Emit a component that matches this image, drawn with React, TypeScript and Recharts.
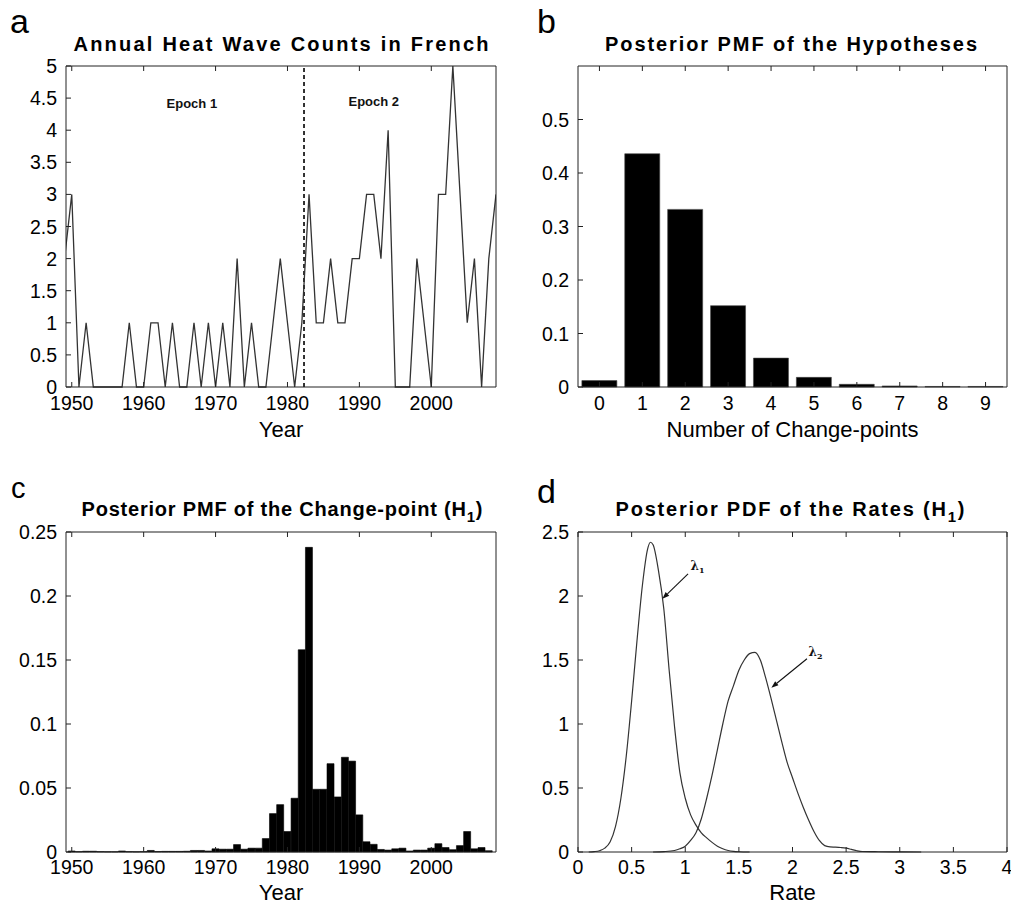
import React from 'react';
import { LineChart, Line, BarChart, Bar, XAxis, YAxis, ReferenceLine, ReferenceDot } from 'recharts';

// ---------- Panel a: annual heat wave counts ----------
const years = [
  1949, 1950, 1951, 1952, 1953, 1954, 1955, 1956, 1957, 1958, 1959,
  1960, 1961, 1962, 1963, 1964, 1965, 1966, 1967, 1968, 1969,
  1970, 1971, 1972, 1973, 1974, 1975, 1976, 1977, 1978, 1979,
  1980, 1981, 1982, 1983, 1984, 1985, 1986, 1987, 1988, 1989,
  1990, 1991, 1992, 1993, 1994, 1995, 1996, 1997, 1998, 1999,
  2000, 2001, 2002, 2003, 2004, 2005, 2006, 2007, 2008, 2009,
];
const heatWaveCounts = [
  2, 3, 0, 1, 0, 0, 0, 0, 0, 1, 0,
  0, 1, 1, 0, 1, 0, 0, 1, 0, 1,
  0, 1, 0, 2, 0, 1, 0, 0, 1, 2,
  1, 0, 1, 3, 1, 1, 2, 1, 1, 2,
  2, 3, 3, 2, 4, 0, 0, 0, 2, 1,
  0, 3, 3, 5, 3, 1, 2, 0, 2, 3,
];
const epochBoundaryYear = 1982.3;
const epochLabels = [
  { text: 'Epoch 1', year: 1966.7, count: 4.42 },
  { text: 'Epoch 2', year: 1992.0, count: 4.44 },
];
const yearTicks = [1950, 1960, 1970, 1980, 1990, 2000];
const countTicks = [0, 0.5, 1, 1.5, 2, 2.5, 3, 3.5, 4, 4.5, 5];

// ---------- Panel b: posterior PMF of the hypotheses ----------
const changePointNumbers = ['0', '1', '2', '3', '4', '5', '6', '7', '8', '9'];
const hypothesisPmf = [0.012, 0.436, 0.332, 0.152, 0.054, 0.018, 0.005, 0.002, 0.001, 0.001];
const hypTicks = [0, 0.1, 0.2, 0.3, 0.4, 0.5];

// ---------- Panel c: posterior PMF of the change-point ----------
const changePointYears = [
  1950, 1951, 1952, 1953, 1954, 1955, 1956, 1957, 1958, 1959,
  1960, 1961, 1962, 1963, 1964, 1965, 1966, 1967, 1968, 1969,
  1970, 1971, 1972, 1973, 1974, 1975, 1976, 1977, 1978, 1979,
  1980, 1981, 1982, 1983, 1984, 1985, 1986, 1987, 1988, 1989,
  1990, 1991, 1992, 1993, 1994, 1995, 1996, 1997, 1998, 1999,
  2000, 2001, 2002, 2003, 2004, 2005, 2006, 2007, 2008,
];
const changePointPmf = [
  0.0008, 0.0003, 0.0006, 0.0006, 0.0003, 0.0002, 0.0002, 0.0008, 0.0003, 0.0002,
  0.0003, 0.0012, 0.0004, 0.0005, 0.0005, 0.0005, 0.0006, 0.0012, 0.0012, 0.0008,
  0.0025, 0.0022, 0.0022, 0.0058, 0.0022, 0.003, 0.003, 0.0105, 0.03, 0.037,
  0.016, 0.042, 0.158, 0.238, 0.049, 0.049, 0.069, 0.043, 0.074, 0.071,
  0.029, 0.008, 0.006, 0.002, 0.0015, 0.0025, 0.003, 0.0008, 0.0015, 0.0015,
  0.003, 0.0065, 0.0035, 0.0018, 0.005, 0.016, 0.0025, 0.0035, 0.001,
];
const pmfTicks = [0, 0.05, 0.1, 0.15, 0.2, 0.25];

// ---------- Panel d: posterior PDF of the rates ----------
const lambda1Rate = [
  0.1, 0.15, 0.2, 0.25, 0.3, 0.35, 0.4, 0.45, 0.5, 0.55, 0.6, 0.65, 0.675, 0.7,
  0.75, 0.8, 0.85, 0.9, 0.95, 1.0, 1.05, 1.1, 1.15, 1.2, 1.25, 1.3, 1.35, 1.4,
  1.45, 1.5, 1.6,
];
const lambda1Pdf = [
  0, 0.003, 0.01, 0.03, 0.08, 0.2, 0.42, 0.75, 1.18, 1.65, 2.08, 2.37, 2.42, 2.4,
  2.2, 1.9, 1.42, 0.98, 0.62, 0.42, 0.29, 0.21, 0.15, 0.11, 0.075, 0.045, 0.025, 0.012,
  0.005, 0.002, 0,
];
const lambda2Rate = [
  0.7, 0.8, 0.9, 0.95, 1.0, 1.05, 1.1, 1.15, 1.2, 1.25, 1.3, 1.35, 1.4, 1.45,
  1.5, 1.55, 1.6, 1.65, 1.7, 1.75, 1.8, 1.85, 1.9, 1.95, 2.0, 2.05, 2.1, 2.15,
  2.2, 2.25, 2.3, 2.35, 2.4, 2.45, 2.5, 2.55, 2.6, 2.65, 2.8, 3.0, 3.2,
];
const lambda2Pdf = [
  0, 0.003, 0.012, 0.025, 0.045, 0.09, 0.15, 0.26, 0.42, 0.6, 0.8, 1.0, 1.18, 1.3,
  1.42, 1.5, 1.55, 1.56, 1.5, 1.36, 1.2, 1.03, 0.86, 0.7, 0.58, 0.46, 0.35, 0.25,
  0.16, 0.09, 0.05, 0.04, 0.038, 0.035, 0.03, 0.02, 0.01, 0.004, 0.002, 0.001, 0,
];
const lambdaArrows = [
  { sub: '1', label: { x: 1.05, y: 2.2 }, tail: { x: 1.026, y: 2.173 }, tip: { x: 0.787, y: 1.978 } },
  { sub: '2', label: { x: 2.15, y: 1.53 }, tail: { x: 2.135, y: 1.51 }, tip: { x: 1.803, y: 1.284 } },
];
const rateTicks = [0, 0.5, 1, 1.5, 2, 2.5, 3, 3.5, 4];
const pdfTicks = [0, 0.5, 1, 1.5, 2, 2.5];

// ---------- tables built from the arrays ----------
const countData = years.map((year, i) => ({ year, count: heatWaveCounts[i] }));
const hypData = changePointNumbers.map((k, i) => ({ k, p: hypothesisPmf[i] }));
const cpData = changePointYears.map((year, i) => ({ year, p: changePointPmf[i] }));
const l1Data = lambda1Rate.map((rate, i) => ({ rate, pdf: lambda1Pdf[i] }));
const l2Data = lambda2Rate.map((rate, i) => ({ rate, pdf: lambda2Pdf[i] }));

// ---------- styles ----------
const FONT = '"Liberation Sans", Arial, Helvetica, sans-serif';
const AX = '#222';
const TICK_FS = 19.5;
const axisLabel = (value: string, offset: number) => ({
  value,
  position: 'insideBottom' as const,
  offset,
  fill: '#000',
  fontSize: 22,
  fontFamily: FONT,
});
const noLabel = () => '';

const BottomTick = (p: any) => (
  <text
    x={p.x}
    y={p.y}
    dy="0.72em"
    textAnchor="middle"
    style={{ fontSize: TICK_FS, fontFamily: FONT, fill: '#000' }}
  >
    {p.payload && p.payload.value}
  </text>
);
const LeftTick = (p: any) => (
  <text
    x={p.x}
    y={p.y}
    dy="0.36em"
    textAnchor="end"
    style={{ fontSize: TICK_FS, fontFamily: FONT, fill: '#000' }}
  >
    {p.payload && p.payload.value}
  </text>
);

const EpochText = (text: string) => (p: any) => (
  <text
    x={p.cx}
    y={p.cy}
    textAnchor="middle"
    dominantBaseline="central"
    fontSize={13}
    fontWeight="bold"
    fontFamily={FONT}
    fill="#111"
  >
    {text}
  </text>
);

const LambdaText = (sub: string) => (p: any) => (
  <text x={p.cx} y={p.cy} fontSize={12} fontWeight="bold" fontFamily='"DejaVu Serif", serif' fill="#111">
    λ
    <tspan dy={3} fontSize={8}>
      {sub}
    </tspan>
  </text>
);

const Arrow = (p: any) => {
  const { x1, y1, x2, y2 } = p;
  if ([x1, y1, x2, y2].some((v) => typeof v !== 'number' || isNaN(v))) return null;
  const a = Math.atan2(y2 - y1, x2 - x1);
  const L = 7;
  const W = 2.6;
  const bx = x2 - L * Math.cos(a);
  const by = y2 - L * Math.sin(a);
  const px = -Math.sin(a) * W;
  const py = Math.cos(a) * W;
  return (
    <g>
      <line x1={x1} y1={y1} x2={bx} y2={by} stroke="#111" strokeWidth={1.1} />
      <polygon points={`${x2},${y2} ${bx + px},${by + py} ${bx - px},${by - py}`} fill="#111" />
    </g>
  );
};

const titleStyle: React.CSSProperties = {
  fontFamily: FONT,
  fontWeight: 'bold',
  fontSize: 20,
  fill: '#000',
};
const letterStyle: React.CSSProperties = {
  fontFamily: FONT,
  fontSize: 34,
  fill: '#000',
};

export default function App() {
  return (
    <div style={{ position: 'absolute', left: 0, top: 0, width: 1011, height: 908, background: '#fff', overflow: 'hidden' }}>
      {/* Panel a */}
      <div style={{ position: 'absolute', left: 0, top: 0 }}>
        <LineChart width={520} height={460} data={countData} margin={{ top: 65, right: 23, bottom: 13, left: 6 }}>
          <XAxis
            xAxisId="b"
            type="number"
            dataKey="year"
            domain={[1949.2, 2009]}
            allowDataOverflow
            ticks={yearTicks}
            interval={0}
            tickSize={-5}
            tickMargin={14}
            height={60}
            stroke={AX}
            tick={BottomTick}
            label={axisLabel('Year', 10)}
          />
          <XAxis
            xAxisId="t"
            orientation="top"
            type="number"
            dataKey="year"
            domain={[1949.2, 2009]}
            allowDataOverflow
            ticks={yearTicks}
            interval={0}
            tickSize={-5}
            height={1}
            stroke={AX}
            tickFormatter={noLabel}
          />
          <YAxis yAxisId="l" type="number" domain={[0, 5]} ticks={countTicks} interval={0} tickSize={-5} tickMargin={14} width={60} stroke={AX} tick={LeftTick} />
          <YAxis yAxisId="r" orientation="right" type="number" domain={[0, 5]} ticks={countTicks} interval={0} tickSize={-5} width={1} stroke={AX} tickFormatter={noLabel} />
          <ReferenceLine xAxisId="b" yAxisId="l" x={epochBoundaryYear} stroke="#000" strokeWidth={1.6} strokeDasharray="4 3" />
          {epochLabels.map((e) => (
            <ReferenceDot key={e.text} xAxisId="b" yAxisId="l" x={e.year} y={e.count} r={0} shape={EpochText(e.text)} />
          ))}
          <Line xAxisId="b" yAxisId="l" type="linear" dataKey="count" stroke="#333" strokeWidth={1.3} dot={false} isAnimationActive={false} />
        </LineChart>
      </div>

      {/* Panel b */}
      <div style={{ position: 'absolute', left: 520, top: 0 }}>
        <BarChart width={491} height={460} data={hypData} margin={{ top: 65, right: 3, bottom: 13, left: 6 }} barCategoryGap="9%">
          <XAxis
            xAxisId="b"
            type="category"
            dataKey="k"
            interval={0}
            tickSize={-5}
            tickMargin={14}
            height={60}
            stroke={AX}
            tick={BottomTick}
            label={axisLabel('Number of Change-points', 10)}
          />
          <XAxis xAxisId="t" orientation="top" type="category" dataKey="k" interval={0} tickSize={-5} height={1} stroke={AX} tickFormatter={noLabel} />
          <YAxis yAxisId="l" type="number" domain={[0, 0.6]} ticks={hypTicks} interval={0} tickSize={-5} tickMargin={14} width={52} stroke={AX} tick={LeftTick} />
          <YAxis yAxisId="r" orientation="right" type="number" domain={[0, 0.6]} ticks={hypTicks} interval={0} tickSize={-5} width={1} stroke={AX} tickFormatter={noLabel} />
          <Bar xAxisId="b" yAxisId="l" dataKey="p" fill="#000" stroke="#444" strokeWidth={0.6} isAnimationActive={false} />
        </BarChart>
      </div>

      {/* Panel c */}
      <div style={{ position: 'absolute', left: 0, top: 460 }}>
        <BarChart width={520} height={448} data={cpData} margin={{ top: 71, right: 23, bottom: 6, left: 6 }} barCategoryGap={0} barGap={0}>
          <XAxis
            xAxisId="b"
            type="number"
            dataKey="year"
            domain={[1949.2, 2009]}
            allowDataOverflow
            ticks={yearTicks}
            interval={0}
            tickSize={-5}
            tickMargin={13}
            height={50}
            stroke={AX}
            tick={BottomTick}
            label={axisLabel('Year', 2)}
          />
          <XAxis
            xAxisId="t"
            orientation="top"
            type="number"
            dataKey="year"
            domain={[1949.2, 2009]}
            allowDataOverflow
            ticks={yearTicks}
            interval={0}
            tickSize={-5}
            height={1}
            stroke={AX}
            tickFormatter={noLabel}
          />
          <YAxis yAxisId="l" type="number" domain={[0, 0.25]} ticks={pmfTicks} interval={0} tickSize={-5} tickMargin={14} width={60} stroke={AX} tick={LeftTick} />
          <YAxis yAxisId="r" orientation="right" type="number" domain={[0, 0.25]} ticks={pmfTicks} interval={0} tickSize={-5} width={1} stroke={AX} tickFormatter={noLabel} />
          <Bar xAxisId="b" yAxisId="l" dataKey="p" fill="#000" stroke="#000" strokeWidth={0.6} isAnimationActive={false} />
        </BarChart>
      </div>

      {/* Panel d */}
      <div style={{ position: 'absolute', left: 520, top: 460 }}>
        <LineChart width={491} height={448} margin={{ top: 71, right: 3, bottom: 6, left: 6 }}>
          <XAxis
            xAxisId="b"
            type="number"
            dataKey="rate"
            domain={[0, 4]}
            allowDataOverflow
            ticks={rateTicks}
            interval={0}
            tickSize={-5}
            tickMargin={13}
            height={50}
            stroke={AX}
            tick={BottomTick}
            label={axisLabel('Rate', 2)}
          />
          <XAxis xAxisId="t" orientation="top" type="number" dataKey="rate" domain={[0, 4]} allowDataOverflow ticks={rateTicks} interval={0} tickSize={-5} height={1} stroke={AX} tickFormatter={noLabel} />
          <YAxis yAxisId="l" type="number" domain={[0, 2.5]} ticks={pdfTicks} interval={0} tickSize={-5} tickMargin={14} width={52} stroke={AX} tick={LeftTick} />
          <YAxis yAxisId="r" orientation="right" type="number" domain={[0, 2.5]} ticks={pdfTicks} interval={0} tickSize={-5} width={1} stroke={AX} tickFormatter={noLabel} />
          <Line xAxisId="b" yAxisId="l" data={l1Data} type="monotone" dataKey="pdf" stroke="#333" strokeWidth={1.2} dot={false} isAnimationActive={false} />
          <Line xAxisId="b" yAxisId="l" data={l2Data} type="monotone" dataKey="pdf" stroke="#333" strokeWidth={1.2} dot={false} isAnimationActive={false} />
          {lambdaArrows.map((a) => (
            <ReferenceLine key={'arr' + a.sub} xAxisId="b" yAxisId="l" segment={[a.tail, a.tip]} shape={Arrow} />
          ))}
          {lambdaArrows.map((a) => (
            <ReferenceDot key={'lab' + a.sub} xAxisId="b" yAxisId="l" x={a.label.x} y={a.label.y} r={0} shape={LambdaText(a.sub)} />
          ))}
        </LineChart>
      </div>

      {/* Titles and panel letters */}
      <svg width={1011} height={908} style={{ position: 'absolute', left: 0, top: 0, pointerEvents: 'none' }}>
        <text x={281} y={51} textAnchor="middle" textLength={415} lengthAdjust="spacing" style={titleStyle}>
          Annual Heat Wave Counts in French
        </text>
        <text x={791} y={51} textAnchor="middle" textLength={372} lengthAdjust="spacing" style={titleStyle}>
          Posterior PMF of the Hypotheses
        </text>
        <text x={282} y={516} textAnchor="middle" textLength={401} lengthAdjust="spacing" style={titleStyle}>
          Posterior PMF of the Change-point (H
          <tspan dy={6} fontSize={15}>1</tspan>
          <tspan dy={-6}>)</tspan>
        </text>
        <text x={790} y={516} textAnchor="middle" textLength={349} lengthAdjust="spacing" style={titleStyle}>
          Posterior PDF of the Rates (H
          <tspan dy={6} fontSize={15}>1</tspan>
          <tspan dy={-6}>)</tspan>
        </text>
        <text x={10} y={33} style={letterStyle}>a</text>
        <text x={537} y={33} style={letterStyle}>b</text>
        <text x={11} y={498} style={{ ...letterStyle, fontSize: 29 }}>c</text>
        <text x={537} y={503} style={letterStyle}>d</text>
      </svg>
    </div>
  );
}
